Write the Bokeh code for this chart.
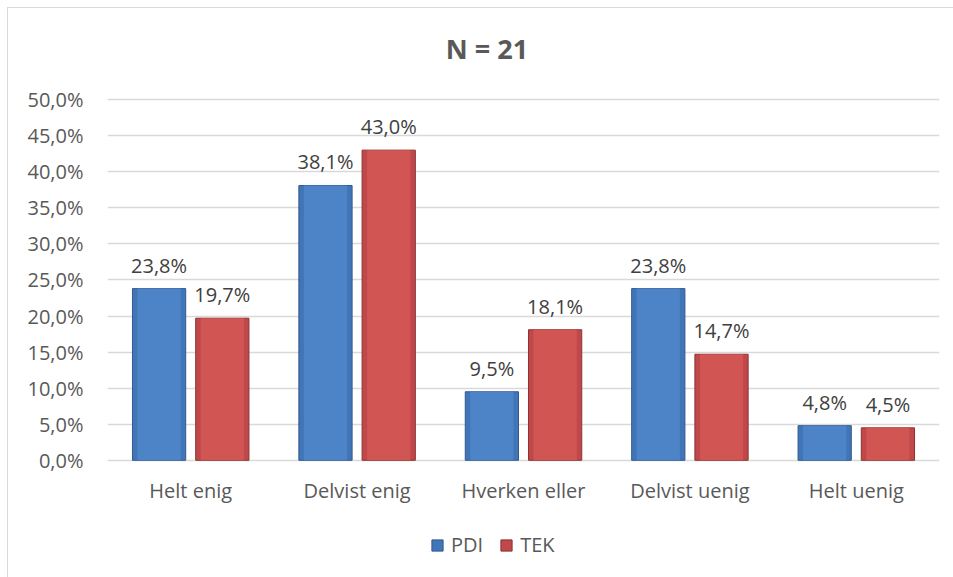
from bokeh.plotting import figure
from bokeh.models import (ColumnDataSource, FactorRange, Range1d, FixedTicker,
                          LabelSet, Label, Legend, LegendItem)
from bokeh.transform import dodge
from bokeh.core.properties import value
from bokeh.embed import file_html
from bokeh.resources import INLINE

categories = ["Helt enig", "Delvist enig", "Hverken eller", "Delvist uenig", "Helt uenig"]
pdi = [23.8, 38.1, 9.5, 23.8, 4.8]
tek = [19.7, 43.0, 18.1, 14.7, 4.5]
y_ticks = [0, 5, 10, 15, 20, 25, 30, 35, 40, 45, 50]
title_text = "N = 21"

def pct(v):
    return f"{v:.1f}".replace(".", ",") + "%"

src = ColumnDataSource(dict(
    cat=categories, pdi=pdi, tek=tek,
    pdi_lbl=[pct(v) for v in pdi], tek_lbl=[pct(v) for v in tek],
))

FONT = "Open Sans"
# frame spans page y 20..575; 7.2 px per percent, 0% at y=459, 50% at y=99
PX = 7.2
p = figure(x_range=FactorRange(*categories),
           y_range=Range1d(-(575 - 459) / PX, 50 + (99 - 20) / PX),
           width=946, height=570, output_backend="svg", toolbar_location=None,
           min_border_left=99, min_border_right=15, min_border_top=12, min_border_bottom=2)
p.styles = {"margin-left": "7px", "margin-top": "7px",
            "border-left": "1px solid #d9d9d9", "border-top": "1px solid #d9d9d9"}
p.outline_line_color = None
p.background_fill_color = "white"
p.border_fill_color = "white"

blue = p.vbar(x=dodge("cat", -0.19, range=p.x_range), top="pdi", width=0.32, source=src,
              fill_color="#4076b8", line_color="#34588c", line_width=1)
red = p.vbar(x=dodge("cat", 0.19, range=p.x_range), top="tek", width=0.32, source=src,
             fill_color="#c0484a", line_color="#8a3331", line_width=1)
# lighter inner band for the bevelled look
p.vbar(x=dodge("cat", -0.19, range=p.x_range), top="pdi", width=0.26, source=src,
       fill_color="#4d84c8", line_color=None)
p.vbar(x=dodge("cat", 0.19, range=p.x_range), top="tek", width=0.26, source=src,
       fill_color="#d05553", line_color=None)

for col, lbl, off in (("pdi", "pdi_lbl", -0.19), ("tek", "tek_lbl", 0.19)):
    p.add_layout(LabelSet(x=dodge("cat", off, range=p.x_range), y=col, text=lbl, source=src,
                          text_align="center", text_baseline="alphabetic", y_offset=16,
                          text_font=value(FONT), text_font_size="20px", text_color="#404040"))

p.yaxis.ticker = FixedTicker(ticks=y_ticks)
p.yaxis.major_label_overrides = {t: pct(t) for t in y_ticks}
p.xaxis.fixed_location = 0
for ax in (p.xaxis, p.yaxis):
    ax.axis_line_color = None
    ax.major_tick_line_color = None
    ax.minor_tick_line_color = None
    ax.major_label_text_font = FONT
    ax.major_label_text_font_size = "20px"
    ax.major_label_text_color = "#595959"
p.yaxis.major_label_standoff = 18
p.xaxis.major_label_standoff = 11
p.xgrid.grid_line_color = None
p.ygrid.grid_line_color = "#d9d9d9"
p.ygrid.grid_line_width = 1.5

p.add_layout(Label(x=379.5, y=575 - 47, x_units="screen", y_units="screen", text=title_text,
                   text_align="center", text_baseline="alphabetic", text_font=FONT,
                   text_font_size="27px", text_font_style="bold", text_color="#595959"))

legend = Legend(items=[LegendItem(label="PDI", renderers=[blue]),
                       LegendItem(label="TEK", renderers=[red])],
                location=(323, 575 - 557), orientation="horizontal",
                glyph_width=14, glyph_height=14, label_height=14, label_standoff=7,
                spacing=16, padding=0, margin=0, border_line_color=None,
                background_fill_alpha=0,
                label_text_font=FONT, label_text_font_size="20px", label_text_color="#595959")
p.add_layout(legend, "center")

open("out.html", "w").write(file_html(p, INLINE))
